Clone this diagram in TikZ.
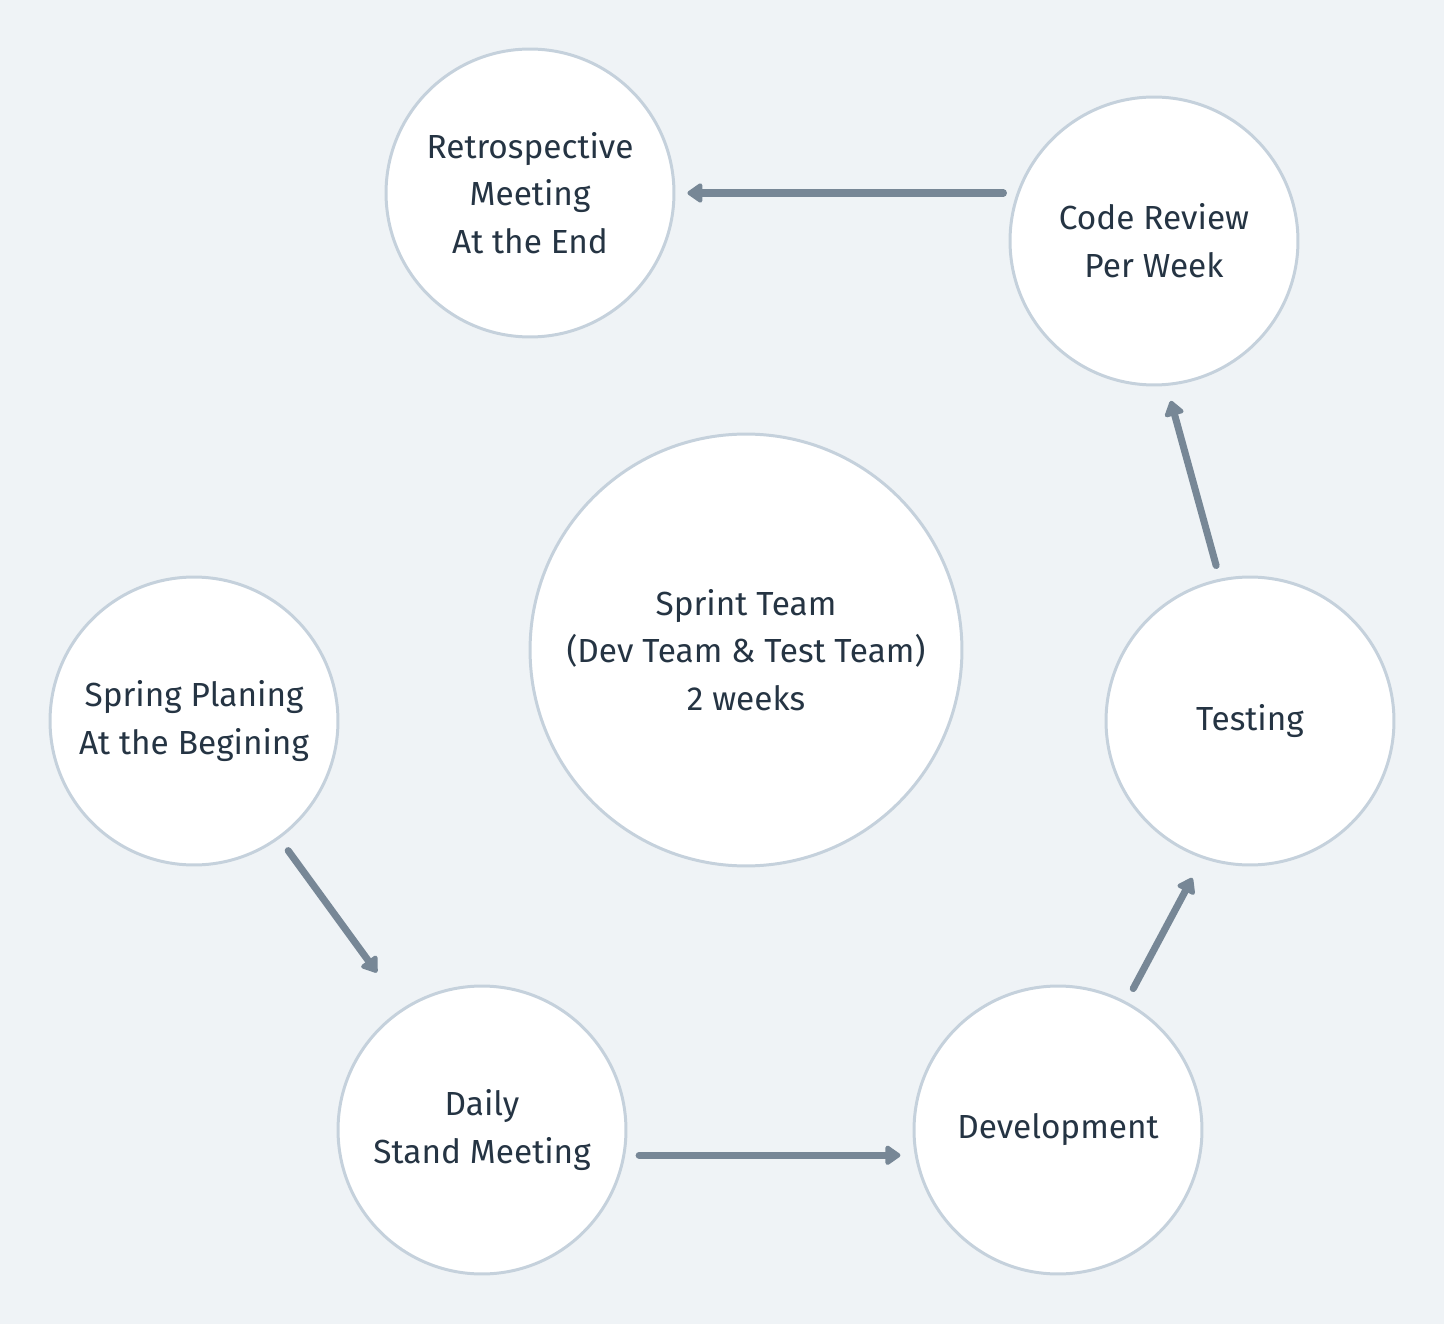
\documentclass[tikz,border=0pt]{standalone}
\usepackage{fontspec}
\setmainfont{Fira Sans}
\usetikzlibrary{arrows.meta}
\definecolor{bg}{HTML}{EFF3F6}
\definecolor{ring}{HTML}{C5D1DC}
\definecolor{arrc}{HTML}{778796}
\definecolor{txt}{HTML}{253443}
\begin{document}
\begin{tikzpicture}[x=0.02cm,y=-0.02cm,
  stage/.style={circle,draw=ring,line width=1.7pt,fill=white,inner sep=0pt,
    minimum size=5.76cm,align=center,text=txt,
    font=\fontsize{19}{27.2}\selectfont},
  bigstage/.style={stage,minimum size=8.64cm},
  arr/.style={draw=arrc,line width=4pt,line cap=round,
    -{Triangle[length=9.5pt,width=12.5pt,round]}}]
\fill[bg] (0,0) rectangle (1444,1324);
\useasboundingbox (0,0) rectangle (1444,1324);
\node[stage] (retro) at (530,193) {Retrospective\\Meeting\\At the End};
\node[stage] (cr) at (1154,241) {Code Review\\Per Week};
\node[bigstage] (sprint) at (746,650) {Sprint Team\\(Dev Team \& Test Team)\\2 weeks};
\node[stage] (spring) at (194,721) {Spring Planing\\At the Begining};
\node[stage] (test) at (1250,721) {Testing};
\node[stage] (daily) at (482,1130) {Daily\\Stand Meeting};
\node[stage] (dev) at (1058,1130) {Development};
\draw[arr,shorten <=7.9pt,shorten >=6.8pt] (retro.east -| cr.160.6) -- (retro.east);
\draw[arr,shorten <=7.8pt,shorten >=8.8pt] (test.102.5) -- (cr.275);
\draw[arr,shorten <=8.4pt,shorten >=12.5pt] (dev.62.6) -- (test.251);
\draw[arr,shorten <=7.9pt,shorten >=7.9pt] (daily.350.4) -- (daily.350.4 -| dev.189.6);
\draw[arr,shorten <=8.4pt,shorten >=25pt] (spring.306.3) -- (daily.123.5);
\end{tikzpicture}
\end{document}
